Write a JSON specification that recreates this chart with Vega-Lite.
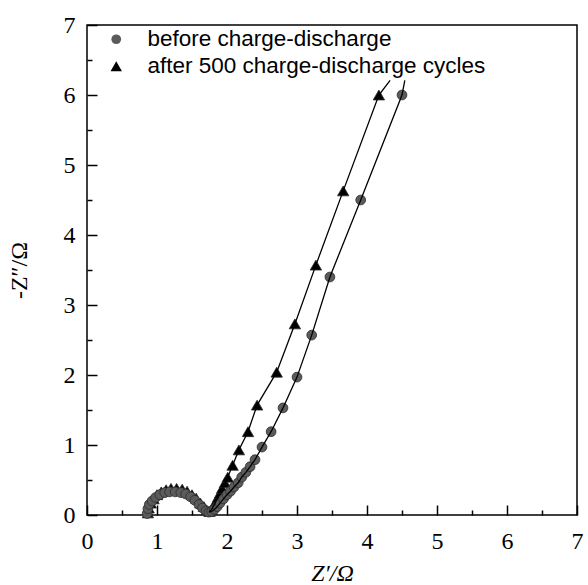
{
  "$schema": "https://vega.github.io/schema/vega-lite/v6.json",
  "width": 490,
  "height": 490,
  "autosize": "none",
  "padding": {"left": 87, "top": 25, "right": 11, "bottom": 70},
  "background": "white",
  "config": {"view": {"stroke": "black", "strokeWidth": 1.5}},
  "data": {"values": [
    {"series": "before charge-discharge", "zre": 0.86, "zim": 0.02, "marker": true},
    {"series": "before charge-discharge", "zre": 0.87, "zim": 0.09, "marker": true},
    {"series": "before charge-discharge", "zre": 0.89, "zim": 0.15, "marker": true},
    {"series": "before charge-discharge", "zre": 0.93, "zim": 0.20, "marker": true},
    {"series": "before charge-discharge", "zre": 0.98, "zim": 0.25, "marker": true},
    {"series": "before charge-discharge", "zre": 1.04, "zim": 0.29, "marker": true},
    {"series": "before charge-discharge", "zre": 1.11, "zim": 0.32, "marker": true},
    {"series": "before charge-discharge", "zre": 1.18, "zim": 0.33, "marker": true},
    {"series": "before charge-discharge", "zre": 1.26, "zim": 0.33, "marker": true},
    {"series": "before charge-discharge", "zre": 1.34, "zim": 0.32, "marker": true},
    {"series": "before charge-discharge", "zre": 1.41, "zim": 0.30, "marker": true},
    {"series": "before charge-discharge", "zre": 1.48, "zim": 0.26, "marker": true},
    {"series": "before charge-discharge", "zre": 1.54, "zim": 0.21, "marker": true},
    {"series": "before charge-discharge", "zre": 1.60, "zim": 0.15, "marker": true},
    {"series": "before charge-discharge", "zre": 1.65, "zim": 0.10, "marker": true},
    {"series": "before charge-discharge", "zre": 1.70, "zim": 0.06, "marker": true},
    {"series": "before charge-discharge", "zre": 1.74, "zim": 0.04, "marker": true},
    {"series": "before charge-discharge", "zre": 1.78, "zim": 0.05, "marker": true},
    {"series": "before charge-discharge", "zre": 1.82, "zim": 0.08, "marker": true},
    {"series": "before charge-discharge", "zre": 1.86, "zim": 0.12, "marker": true},
    {"series": "before charge-discharge", "zre": 1.90, "zim": 0.17, "marker": true},
    {"series": "before charge-discharge", "zre": 1.95, "zim": 0.23, "marker": true},
    {"series": "before charge-discharge", "zre": 2.00, "zim": 0.29, "marker": true},
    {"series": "before charge-discharge", "zre": 2.05, "zim": 0.34, "marker": true},
    {"series": "before charge-discharge", "zre": 2.10, "zim": 0.40, "marker": true},
    {"series": "before charge-discharge", "zre": 2.16, "zim": 0.46, "marker": true},
    {"series": "before charge-discharge", "zre": 2.21, "zim": 0.54, "marker": true},
    {"series": "before charge-discharge", "zre": 2.27, "zim": 0.61, "marker": true},
    {"series": "before charge-discharge", "zre": 2.33, "zim": 0.69, "marker": true},
    {"series": "before charge-discharge", "zre": 2.40, "zim": 0.79, "marker": true},
    {"series": "before charge-discharge", "zre": 2.50, "zim": 0.97, "marker": true},
    {"series": "before charge-discharge", "zre": 2.63, "zim": 1.19, "marker": true},
    {"series": "before charge-discharge", "zre": 2.80, "zim": 1.53, "marker": true},
    {"series": "before charge-discharge", "zre": 3.00, "zim": 1.97, "marker": true},
    {"series": "before charge-discharge", "zre": 3.21, "zim": 2.57, "marker": true},
    {"series": "before charge-discharge", "zre": 3.47, "zim": 3.40, "marker": true},
    {"series": "before charge-discharge", "zre": 3.91, "zim": 4.50, "marker": true},
    {"series": "before charge-discharge", "zre": 4.50, "zim": 6.00, "marker": true},
    {"series": "before charge-discharge", "zre": 4.54, "zim": 6.21, "marker": false},
    {"series": "after 500 charge-discharge cycles", "zre": 0.87, "zim": 0.03, "marker": true},
    {"series": "after 500 charge-discharge cycles", "zre": 0.88, "zim": 0.10, "marker": true},
    {"series": "after 500 charge-discharge cycles", "zre": 0.91, "zim": 0.17, "marker": true},
    {"series": "after 500 charge-discharge cycles", "zre": 0.95, "zim": 0.23, "marker": true},
    {"series": "after 500 charge-discharge cycles", "zre": 1.00, "zim": 0.29, "marker": true},
    {"series": "after 500 charge-discharge cycles", "zre": 1.06, "zim": 0.33, "marker": true},
    {"series": "after 500 charge-discharge cycles", "zre": 1.13, "zim": 0.36, "marker": true},
    {"series": "after 500 charge-discharge cycles", "zre": 1.20, "zim": 0.38, "marker": true},
    {"series": "after 500 charge-discharge cycles", "zre": 1.28, "zim": 0.38, "marker": true},
    {"series": "after 500 charge-discharge cycles", "zre": 1.36, "zim": 0.37, "marker": true},
    {"series": "after 500 charge-discharge cycles", "zre": 1.43, "zim": 0.34, "marker": true},
    {"series": "after 500 charge-discharge cycles", "zre": 1.50, "zim": 0.29, "marker": true},
    {"series": "after 500 charge-discharge cycles", "zre": 1.56, "zim": 0.24, "marker": true},
    {"series": "after 500 charge-discharge cycles", "zre": 1.62, "zim": 0.17, "marker": true},
    {"series": "after 500 charge-discharge cycles", "zre": 1.67, "zim": 0.12, "marker": true},
    {"series": "after 500 charge-discharge cycles", "zre": 1.71, "zim": 0.07, "marker": true},
    {"series": "after 500 charge-discharge cycles", "zre": 1.75, "zim": 0.05, "marker": true},
    {"series": "after 500 charge-discharge cycles", "zre": 1.78, "zim": 0.08, "marker": true},
    {"series": "after 500 charge-discharge cycles", "zre": 1.81, "zim": 0.13, "marker": true},
    {"series": "after 500 charge-discharge cycles", "zre": 1.84, "zim": 0.19, "marker": true},
    {"series": "after 500 charge-discharge cycles", "zre": 1.87, "zim": 0.25, "marker": true},
    {"series": "after 500 charge-discharge cycles", "zre": 1.90, "zim": 0.31, "marker": true},
    {"series": "after 500 charge-discharge cycles", "zre": 1.93, "zim": 0.38, "marker": true},
    {"series": "after 500 charge-discharge cycles", "zre": 1.97, "zim": 0.46, "marker": true},
    {"series": "after 500 charge-discharge cycles", "zre": 2.01, "zim": 0.54, "marker": true},
    {"series": "after 500 charge-discharge cycles", "zre": 2.08, "zim": 0.71, "marker": true},
    {"series": "after 500 charge-discharge cycles", "zre": 2.17, "zim": 0.93, "marker": true},
    {"series": "after 500 charge-discharge cycles", "zre": 2.30, "zim": 1.19, "marker": true},
    {"series": "after 500 charge-discharge cycles", "zre": 2.43, "zim": 1.57, "marker": true},
    {"series": "after 500 charge-discharge cycles", "zre": 2.71, "zim": 2.04, "marker": true},
    {"series": "after 500 charge-discharge cycles", "zre": 2.97, "zim": 2.73, "marker": true},
    {"series": "after 500 charge-discharge cycles", "zre": 3.27, "zim": 3.57, "marker": true},
    {"series": "after 500 charge-discharge cycles", "zre": 3.66, "zim": 4.63, "marker": true},
    {"series": "after 500 charge-discharge cycles", "zre": 4.17, "zim": 6.00, "marker": true},
    {"series": "after 500 charge-discharge cycles", "zre": 4.33, "zim": 6.21, "marker": false}
  ]},
  "layer": [
    {
      "transform": [{"filter": "datum.marker"}],
      "mark": {"type": "point", "filled": true, "opacity": 1, "stroke": "#2b2b2b", "strokeWidth": 0.8},
      "encoding": {
        "x": {
          "field": "zre", "type": "quantitative",
          "scale": {"domain": [0, 7], "nice": false, "zero": false},
          "axis": {
            "values": [0, 1, 2, 3, 4, 5, 6, 7], "tickSize": -10, "tickWidth": 1.5, "tickColor": "black",
            "domain": false, "grid": false, "labelFont": "Liberation Serif, Times New Roman, serif", "labelFontSize": 24,
            "labelColor": "black", "labelPadding": 24, "labelFlush": false, "labelOverlap": false,
            "title": "Z′/Ω", "titleFont": "Liberation Serif, Times New Roman, serif", "titleFontSize": 24, "titleFontWeight": "normal",
            "titleFontStyle": "italic", "titleColor": "black", "titlePadding": 8
          }
        },
        "y": {
          "field": "zim", "type": "quantitative",
          "scale": {"domain": [0, 7], "nice": false, "zero": false},
          "axis": {
            "values": [0, 1, 2, 3, 4, 5, 6, 7], "tickSize": -10, "tickWidth": 1.5, "tickColor": "black",
            "domain": false, "grid": false, "labelFont": "Liberation Serif, Times New Roman, serif", "labelFontSize": 24,
            "labelColor": "black", "labelPadding": 22, "labelFlush": false, "labelOverlap": false,
            "title": "-Z″/Ω", "titleFont": "Liberation Serif, Times New Roman, serif", "titleFontSize": 24, "titleFontWeight": "normal",
            "titleColor": "black", "titlePadding": 32
          }
        },
        "shape": {
          "field": "series", "type": "nominal",
          "scale": {"domain": ["before charge-discharge", "after 500 charge-discharge cycles"], "range": ["circle", "triangle-up"]},
          "legend": {"title": null, "orient": "none", "legendX": 18, "legendY": 3, "padding": 0,
            "labelFont": "Liberation Sans, Arial, sans-serif", "labelFontSize": 22.5, "labelColor": "black", "labelOffset": 20, "labelLimit": 0,
            "rowPadding": 4, "symbolStrokeColor": "#2b2b2b", "symbolStrokeWidth": 0.8}
        },
        "fill": {
          "field": "series", "type": "nominal",
          "scale": {"domain": ["before charge-discharge", "after 500 charge-discharge cycles"], "range": ["#5b5b5b", "#000000"]},
          "legend": {"title": null, "orient": "none", "legendX": 18, "legendY": 3, "padding": 0,
            "labelFont": "Liberation Sans, Arial, sans-serif", "labelFontSize": 22.5, "labelColor": "black", "labelOffset": 20, "labelLimit": 0,
            "rowPadding": 4, "symbolStrokeColor": "#2b2b2b", "symbolStrokeWidth": 0.8}
        },
        "size": {
          "field": "series", "type": "nominal",
          "scale": {"domain": ["before charge-discharge", "after 500 charge-discharge cycles"], "range": [95, 130]},
          "legend": {"title": null, "orient": "none", "legendX": 18, "legendY": 3, "padding": 0,
            "labelFont": "Liberation Sans, Arial, sans-serif", "labelFontSize": 22.5, "labelColor": "black", "labelOffset": 20, "labelLimit": 0,
            "rowPadding": 4, "symbolStrokeColor": "#2b2b2b", "symbolStrokeWidth": 0.8}
        },
        "order": {"field": "series", "sort": "ascending"}
      }
    },
    {
      "transform": [{"filter": "datum.zre >= 1.74"}],
      "mark": {"type": "line", "color": "black", "strokeWidth": 1.3},
      "encoding": {
        "x": {
          "field": "zre", "type": "quantitative",
          "scale": {"domain": [0, 7], "nice": false, "zero": false},
          "axis": {"orient": "bottom", "values": [0.5, 1.5, 2.5, 3.5, 4.5, 5.5, 6.5], "tickSize": -5, "tickWidth": 1.5,
            "tickColor": "black", "labels": false, "domain": false, "grid": false, "title": null}
        },
        "y": {
          "field": "zim", "type": "quantitative",
          "scale": {"domain": [0, 7], "nice": false, "zero": false},
          "axis": {"orient": "left", "values": [0.5, 1.5, 2.5, 3.5, 4.5, 5.5, 6.5], "tickSize": -5, "tickWidth": 1.5,
            "tickColor": "black", "labels": false, "domain": false, "grid": false, "title": null}
        },
        "detail": {"field": "series", "type": "nominal"}
      }
    }
  ],
  "resolve": {"axis": {"x": "independent", "y": "independent"}}
}
